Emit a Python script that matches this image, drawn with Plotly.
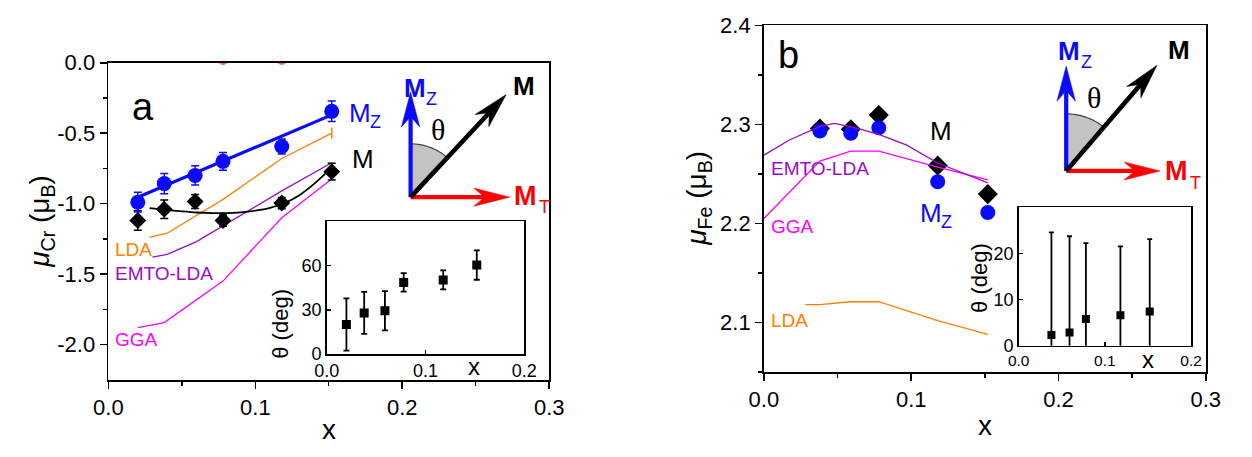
import math
import plotly.graph_objects as go

W, H = 1252, 457
FONT = "Liberation Sans"
SERIF = "Liberation Serif"

# ---------------- data (panel a: Cr) ----------------
x6 = [0.02, 0.038, 0.059, 0.078, 0.118, 0.152]
cr_mz = [-0.99, -0.858, -0.80, -0.70, -0.595, -0.345]
cr_mz_err = [0.07, 0.072, 0.068, 0.063, 0.053, 0.073]
cr_m = [-1.12, -1.04, -0.985, -1.12, -0.996, -0.773]
cr_m_err = [0.07, 0.065, 0.05, 0.04, 0.04, 0.06]
cr_mt_x = [0.078, 0.118]
cr_mt = [0.02, 0.02]
cr_fit_x = [0.02, 0.152]
cr_fit = [-0.955, -0.37]
cr_curve_x = [0.028, 0.04, 0.05, 0.06, 0.07, 0.08, 0.09, 0.10, 0.11, 0.12, 0.13, 0.14, 0.152]
cr_curve = [-1.032, -1.045, -1.055, -1.063, -1.067, -1.067, -1.062, -1.05, -1.03, -0.995, -0.94, -0.86, -0.745]
cr_lda_x = [0.028, 0.04, 0.078, 0.118, 0.152]
cr_lda = [-1.24, -1.21, -0.97, -0.68, -0.50]
cr_lda_err = [0, 0, 0, 0, 0.04]
cr_emto_x = [0.03, 0.04, 0.06, 0.078, 0.118, 0.152]
cr_emto = [-1.38, -1.36, -1.27, -1.16, -0.91, -0.71]
cr_gga_x = [0.02, 0.038, 0.078, 0.118, 0.152]
cr_gga = [-1.88, -1.845, -1.55, -1.10, -0.825]
theta_a = [20.0, 27.9, 29.4, 48.6, 50.3, 60.4]
theta_a_err = [17.7, 14.3, 13.3, 6.3, 6.5, 10.0]

# ---------------- data (panel b: Fe) ----------------
x5 = [0.038, 0.059, 0.078, 0.118, 0.152]
fe_mz = [2.2934, 2.2911, 2.2966, 2.2421, 2.2111]
fe_m = [2.2959, 2.2950, 2.3094, 2.2585, 2.2297]
fe_emto_x = [0.0, 0.017, 0.038, 0.048, 0.061, 0.078, 0.097, 0.118, 0.152]
fe_emto = [2.269, 2.284, 2.298, 2.301, 2.297, 2.290, 2.279, 2.261, 2.241]
fe_gga_x = [0.0, 0.038, 0.059, 0.078, 0.118, 0.152]
fe_gga = [2.205, 2.263, 2.273, 2.273, 2.257, 2.244]
fe_lda_x = [0.028, 0.038, 0.059, 0.078, 0.118, 0.152]
fe_lda = [2.118, 2.118, 2.121, 2.121, 2.102, 2.088]
theta_b = [2.36, 2.9, 5.8, 6.6, 7.4]
theta_b_err = [22.2, 20.8, 16.4, 14.9, 15.7]

# tick labels
main_x_ticks = [0.0, 0.1, 0.2, 0.3]
main_x_text = ["0.0", "0.1", "0.2", "0.3"]
cr_y_ticks = [0.0, -0.5, -1.0, -1.5, -2.0]
cr_y_text = ["0.0", "-0.5", "-1.0", "-1.5", "-2.0"]
fe_y_ticks = [2.1, 2.2, 2.3, 2.4]
fe_y_text = ["2.1", "2.2", "2.3", "2.4"]
inset_x_ticks = [0.0, 0.1, 0.2]
inset_x_text = ["0.0", "0.1", "0.2"]

BLUE = "#0a0aff"
ORANGE = "#ff8000"
PURPLE = "#9a0ccc"
MAGENTA = "#ff00ff"
RED = "#ff0000"


def dom_x(a, b):
    return [a / W, b / W]


def dom_y(top, bottom):
    return [1 - bottom / H, 1 - top / H]


fig = go.Figure()

# ---- panel a main ----
for xs, ys, col in [(cr_lda_x, cr_lda, ORANGE), (cr_emto_x, cr_emto, PURPLE), (cr_gga_x, cr_gga, MAGENTA)]:
    tr = dict(x=xs, y=ys, mode="lines", line=dict(color=col, width=1.3), xaxis="x", yaxis="y")
    if col == ORANGE:
        tr["error_y"] = dict(type="data", array=cr_lda_err, color=ORANGE, thickness=1.5, width=0)
    fig.add_trace(go.Scatter(**tr))
fig.add_trace(go.Scatter(x=cr_curve_x, y=cr_curve, mode="lines", line=dict(color="black", width=1.8, shape="spline"),
                         xaxis="x", yaxis="y"))
fig.add_trace(go.Scatter(x=cr_fit_x, y=cr_fit, mode="lines", line=dict(color=BLUE, width=3.2), xaxis="x", yaxis="y"))
fig.add_trace(go.Scatter(x=x6, y=cr_m, mode="markers",
                         marker=dict(symbol="diamond", size=13, color="black"),
                         error_y=dict(type="data", array=cr_m_err, color="black", thickness=1.5, width=4),
                         xaxis="x", yaxis="y"))
fig.add_trace(go.Scatter(x=x6, y=cr_mz, mode="markers",
                         marker=dict(symbol="circle", size=15, color=BLUE),
                         error_y=dict(type="data", array=cr_mz_err, color=BLUE, thickness=1.5, width=4),
                         xaxis="x", yaxis="y"))
fig.add_trace(go.Scatter(x=cr_mt_x, y=cr_mt, mode="markers", marker=dict(size=10, color="rgba(255,60,60,0.8)"),
                         xaxis="x", yaxis="y"))

# ---- panel a inset ----
fig.add_trace(go.Scatter(x=x6, y=theta_a, mode="markers",
                         marker=dict(symbol="square", size=9, color="black"),
                         error_y=dict(type="data", array=theta_a_err, color="black", thickness=1.8, width=3),
                         xaxis="x2", yaxis="y2"))

# ---- panel b main ----
fig.add_trace(go.Scatter(x=x5, y=fe_m, mode="markers", marker=dict(symbol="diamond", size=15.5, color="black"),
                         xaxis="x3", yaxis="y3"))
fig.add_trace(go.Scatter(x=x5, y=fe_mz, mode="markers", marker=dict(symbol="circle", size=15, color=BLUE),
                         xaxis="x3", yaxis="y3"))
for xs, ys, col in [(fe_lda_x, fe_lda, ORANGE), (fe_gga_x, fe_gga, MAGENTA), (fe_emto_x, fe_emto, PURPLE)]:
    fig.add_trace(go.Scatter(x=xs, y=ys, mode="lines", line=dict(color=col, width=1.3), xaxis="x3", yaxis="y3"))

# ---- panel b inset ----
fig.add_trace(go.Scatter(x=x5, y=theta_b, mode="markers",
                         marker=dict(symbol="square", size=8, color="black"),
                         error_y=dict(type="data", array=theta_b_err, color="black", thickness=1.8, width=2.5),
                         xaxis="x4", yaxis="y4"))

main_ax = dict(showline=True, linecolor="black", linewidth=1.8, mirror=True, ticks="outside", ticklen=7,
               tickwidth=1.6, tickcolor="black", showgrid=False, zeroline=False,
               tickfont=dict(family=FONT, size=22, color="black"), tickmode="array")
inset_ax = dict(showline=True, linecolor="black", linewidth=1.6, mirror=True, ticks="inside", ticklen=4,
                tickwidth=1.4, tickcolor="black", showgrid=False, zeroline=False,
                tickfont=dict(family=FONT, size=18, color="black"), tickmode="array")


def minor(vals):
    return dict(tickmode="array", tickvals=vals, ticks="outside", ticklen=4, tickwidth=1.4, tickcolor="black",
                showgrid=False)


fig.update_layout(
    width=W, height=H, margin=dict(l=0, r=0, t=0, b=0, pad=0), autosize=False,
    paper_bgcolor="white", plot_bgcolor="white", showlegend=False, hovermode=False,
    xaxis=dict(main_ax, domain=dom_x(95.7, 547.3), range=[0, 0.3], tickvals=main_x_ticks, ticktext=main_x_text,
               minor=minor([0.05, 0.15, 0.25]), anchor="y"),
    yaxis=dict(main_ax, domain=dom_y(53.3, 386.3), range=[-2.25, 0], tickvals=cr_y_ticks, ticktext=cr_y_text,
               minor=minor([-0.25, -0.75, -1.25, -1.75]), anchor="x"),
    xaxis2=dict(inset_ax, domain=dom_x(319.3, 521.7), range=[0, 0.2], tickvals=inset_x_ticks,
                ticktext=inset_x_text, anchor="y2"),
    yaxis2=dict(inset_ax, domain=dom_y(220, 359.3), range=[0, 90], tickvals=[0, 30, 60], anchor="x2"),
    xaxis3=dict(main_ax, domain=dom_x(767.3, 1220), range=[0, 0.3], tickvals=main_x_ticks, ticktext=main_x_text,
                minor=minor([0.05, 0.15, 0.25]), anchor="y3"),
    yaxis3=dict(main_ax, domain=dom_y(14, 378.3), range=[2.05, 2.4], tickvals=fe_y_ticks, ticktext=fe_y_text,
                minor=minor([2.05, 2.15, 2.25, 2.35]), anchor="x3"),
    xaxis4=dict(inset_ax, domain=dom_x(1028.3, 1205), range=[0, 0.2], tickvals=inset_x_ticks,
                ticktext=inset_x_text, tickfont=dict(family=FONT, size=15.5, color="black"), anchor="y4"),
    yaxis4=dict(inset_ax, domain=dom_y(205, 350.7), range=[0, 30], tickvals=[0, 10, 20], anchor="x4"),
)

ann = []


def txt(x, y, s, size, color="black", xanchor="left", yanchor="middle", angle=0, family=FONT):
    ann.append(dict(x=x / W, y=1 - y / H, xref="paper", yref="paper", text=s, showarrow=False,
                    font=dict(size=size, color=color, family=family), xanchor=xanchor, yanchor=yanchor,
                    textangle=angle))


# axis titles
txt(321.5, 438.6, "x", 28, xanchor="center")
txt(993.7, 434.6, "x", 28, xanchor="center")
txt(27, 220, "<i>μ</i><sub>Cr</sub> (μ<sub>B</sub>)", 28, xanchor="center", angle=-90)
txt(700, 196, "<i>μ</i><sub>Fe</sub> (μ<sub>B</sub>)", 28, xanchor="center", angle=-90)
# inset titles
txt(272, 327, "θ (deg)", 22, xanchor="center", angle=-90)
txt(988, 279, "θ (deg)", 22, xanchor="center", angle=-90)
txt(470, 372.9, "x", 24, xanchor="center")
txt(1161, 364.9, "x", 24, xanchor="center")
# panel letters
txt(131, 99.7, "a", 38, xanchor="center")
txt(793, 44.8, "b", 38, xanchor="center")
# panel a labels
txt(340, 106.5, "M", 26, BLUE)
txt(362, 116, "Z", 18, BLUE)
txt(343, 154, "M", 26)
txt(100, 249.5, "LDA", 19, ORANGE)
txt(100, 274.5, "EMTO-LDA", 19, PURPLE)
txt(100, 344, "GGA", 19, MAGENTA)
# panel b labels
txt(935, 125, "M", 26)
txt(925, 211, "M", 26, BLUE)
txt(947, 221, "Z", 18, BLUE)
txt(772, 164.5, "EMTO-LDA", 19, PURPLE)
txt(772, 225.5, "GGA", 19, MAGENTA)
txt(772, 324.5, "LDA", 19, ORANGE)

shapes = []


def pp(x, y):
    return f"{x / W:.6f},{1 - y / H:.6f}"


def arrow(x0, y0, x1, y1, color, width=4.2, L=37, hw=9.5, notch=0.7):
    d = math.hypot(x1 - x0, y1 - y0)
    ux, uy = (x1 - x0) / d, (y1 - y0) / d
    nx, ny = -uy, ux
    bx, by = x1 - ux * L, y1 - uy * L
    kx, ky = x1 - ux * L * notch, y1 - uy * L * notch
    shapes.append(dict(type="line", xref="paper", yref="paper", x0=x0 / W, y0=1 - y0 / H, x1=kx / W, y1=1 - ky / H,
                       line=dict(color=color, width=width)))
    path = "M" + pp(x1, y1) + " L" + pp(bx + nx * hw, by + ny * hw) + " L" + pp(kx, ky) + \
           " L" + pp(bx - nx * hw, by - ny * hw) + " Z"
    shapes.append(dict(type="path", xref="paper", yref="paper", path=path, fillcolor=color,
                       line=dict(color=color, width=0.5)))


def diagram(ox, oy, ztip, ttip, mtip, r, labels):
    ang = math.atan2(mtip[0] - ox, oy - mtip[1])
    n = 30
    pts = [(ox + r * math.sin(ang * i / n), oy - r * math.cos(ang * i / n)) for i in range(n + 1)]
    wedge = "M" + pp(ox, oy) + "".join(" L" + pp(*p) for p in pts) + " Z"
    shapes.append(dict(type="path", xref="paper", yref="paper", path=wedge, fillcolor="#c3c3c3",
                       line=dict(width=0)))
    arcp = "M" + pp(*pts[0]) + "".join(" L" + pp(*p) for p in pts[1:])
    shapes.append(dict(type="path", xref="paper", yref="paper", path=arcp, line=dict(color="#404040", width=1.2)))
    arrow(ox, oy, ox, ztip, BLUE)
    arrow(ox, oy, ttip, oy, RED)
    arrow(ox, oy, mtip[0], mtip[1], "black", width=4.6)
    (mzx, mzy), (mx, my), (mtx, mty), (thx, thy) = labels
    txt(mzx, mzy, "<b>M</b>", 26, BLUE)
    txt(mzx + 23, mzy + 12, "Z", 18, BLUE)
    txt(mx, my, "<b>M</b>", 26)
    txt(mtx, mty, "<b>M</b>", 27, RED)
    txt(mtx + 26, mty + 12, "T", 18, RED)
    txt(thx, thy, "θ", 30, xanchor="center", family=SERIF)


diagram(405.3, 194.5, 84, 507, (503.3, 86.7), 56,
        [(396, 79.5), (508, 77.5), (509, 193), (433.5, 123.5)])
diagram(1077, 167, 56.7, 1173.3, (1170, 56), 60,
        [(1067, 41), (1179, 40), (1176, 167.5), (1105, 90)])

fig.update_layout(annotations=ann, shapes=shapes)
fig.write_html("out.html", config={"displayModeBar": False, "staticPlot": True},
               post_script="document.body.style.margin='0';document.body.style.overflow='hidden';")
